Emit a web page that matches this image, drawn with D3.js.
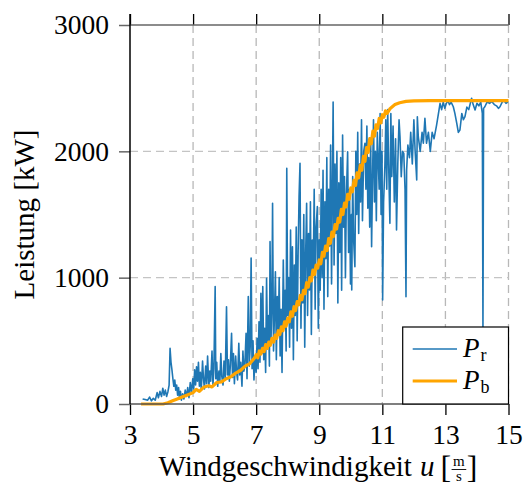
<!DOCTYPE html>
<html>
<head>
<meta charset="utf-8">
<script src="https://cdn.jsdelivr.net/npm/d3@7"></script>
<style>
  html, body { margin: 0; padding: 0; background: #fff; }
  svg { display: block; }
  text { font-family: "Liberation Serif", "DejaVu Serif", serif; fill: #000; }
</style>
</head>
<body>
<svg id="chart" width="523" height="488"></svg>
<script>
// ---------- data ----------
const xTicks = [3, 5, 7, 9, 11, 13, 15];
const yTicks = [0, 1000, 2000, 3000];

// measured power P_r (wind speed u in m/s, power in kW)
const uR = [
  3.40,3.48,3.56,3.62,3.68,3.74,3.80,3.86,3.90,3.95,4.00,4.04,4.08,4.12,4.16,4.20,4.24,4.27,4.30,4.33,
  4.36,4.39,4.42,4.45,4.48,4.51,4.54,4.57,4.60,4.63,4.67,4.71,4.75,4.79,4.83,4.87,4.91,4.95,4.99,5.02,
  5.05,5.08,5.11,5.14,5.17,5.20,5.23,5.26,5.30,5.33,5.36,5.40,5.43,5.46,5.50,5.53,5.56,5.60,5.63,5.66,
  5.70,5.72,5.75,5.78,5.82,5.85,5.88,5.91,5.95,5.98,6.02,6.06,6.09,6.12,6.15,6.18,6.22,6.25,6.28,6.31,
  6.35,6.38,6.41,6.45,6.48,6.51,6.55,6.58,6.61,6.64,6.68,6.71,6.75,6.78,6.81,6.84,6.87,6.90,6.93,6.97,
  7.00,7.03,7.06,7.09,7.12,7.15,7.18,7.21,7.24,7.27,7.30,7.33,7.36,7.39,7.42,7.44,7.47,7.50,7.52,7.55,
  7.58,7.61,7.64,7.67,7.70,7.73,7.76,7.79,7.82,7.86,7.89,7.92,7.95,7.97,8.00,8.03,8.06,8.09,8.12,8.15,
  8.18,8.21,8.24,8.27,8.30,8.33,8.36,8.39,8.42,8.45,8.48,8.51,8.54,8.57,8.60,8.63,8.66,8.69,8.72,8.75,
  8.78,8.81,8.84,8.87,8.90,8.94,8.97,9.00,9.03,9.06,9.09,9.12,9.15,9.18,9.21,9.24,9.27,9.30,9.33,9.36,
  9.39,9.42,9.44,9.47,9.50,9.53,9.56,9.59,9.62,9.65,9.68,9.71,9.74,9.77,9.80,9.83,9.86,9.90,9.93,9.96,
  9.99,10.02,10.03,10.06,10.09,10.13,10.16,10.19,10.22,10.25,10.28,10.31,10.34,10.37,10.41,10.45,10.48,10.51,10.54,10.57,
  10.60,10.63,10.66,10.69,10.72,10.75,10.78,10.81,10.84,10.87,10.90,10.93,10.96,10.99,11.01,11.04,11.08,11.11,11.14,11.17,
  11.20,11.24,11.27,11.30,11.34,11.38,11.42,11.45,11.49,11.53,11.56,11.60,11.64,11.68,11.72,11.75,11.77,11.81,11.86,11.90,
  11.95,12.00,12.04,12.09,12.11,12.14,12.20,12.26,12.30,12.35,12.40,12.46,12.52,12.58,12.64,12.72,12.78,12.83,12.88,12.93,
  12.98,13.03,13.08,13.13,13.18,13.25,13.30,13.36,13.41,13.46,13.52,13.57,13.62,13.68,13.74,13.80,13.83,13.88,13.94,14.00,
  14.06,14.12,14.17,14.19,14.21,14.25,14.32,14.40,14.47,14.55,14.62,14.68,14.73,14.80,14.86,14.92,15.00
];
const pR = [
  40,35,30,55,25,45,30,90,50,100,60,125,70,110,60,95,150,440,330,270,
  200,140,190,110,150,70,130,40,100,30,80,40,110,60,130,50,170,90,200,120,
  270,150,295,180,330,140,250,110,340,200,120,300,160,380,130,260,180,420,150,280,
  930,200,330,140,260,180,400,220,150,340,200,770,230,350,180,300,560,210,400,160,
  380,250,190,480,230,330,140,420,260,300,560,200,850,300,450,1155,280,500,190,380,
  250,520,280,650,330,876,400,929,350,600,250,995,450,700,300,1285,500,800,1589,420,
  700,1047,350,850,550,1000,380,750,250,1140,600,900,420,1866,700,1000,450,1377,600,1245,
  350,1100,700,1400,500,1200,1641,1905,600,1300,800,1500,450,1200,1589,700,1350,902,1600,550,
  1298,1050,1700,750,1400,1562,600,1300,900,1700,1000,1850,750,1600,1150,1950,850,1700,1250,2050,
  950,1800,2390,1100,1900,1350,2000,800,1750,1200,1950,900,2129,1400,1800,1000,1650,1997,1200,1700,
  950,1500,902,1800,1300,1087,2000,1500,2150,1350,1900,1600,2250,1450,2000,2064,1700,2200,1550,1950,
  1400,2100,1245,1800,2250,1600,2000,1450,2150,1931,1700,2300,1500,2000,823,1600,1878,2250,1700,2330,
  1900,1430,2300,1800,2200,1600,2100,1377,1900,2250,2116,1800,2000,1984,1700,849,1852,2050,1950,2150,
  1900,2250,2000,1773,2274,2116,2000,2150,2064,2261,2064,2150,2000,2150,2100,2208,2300,2380,2330,2390,
  2340,2380,2400,2370,2390,2353,2300,2221,2150,2169,2300,2250,2274,2350,2330,2390,2420,2370,2327,2380,
  2360,2390,2300,585,2340,2353,2390,2380,2395,2370,2360,2340,2353,2390,2400,2380,2393
];

// model power P_b
const uB = [
  3.35,3.60,3.85,4.05,4.20,4.35,4.50,4.65,4.80,5.00,5.10,5.20,5.35,5.50,5.60,5.75,5.90,6.05,6.20,6.35,
  6.50,6.65,6.80,6.95,
  7.00,7.05,7.10,7.15,7.20,7.25,7.30,7.35,7.40,7.45,7.50,7.55,7.60,7.65,7.70,7.75,7.80,7.85,7.90,7.95,
  8.00,8.05,8.10,8.15,8.20,8.25,8.30,8.35,8.40,8.45,8.50,8.55,8.60,8.65,8.70,8.75,8.80,8.85,8.90,8.95,
  9.00,9.05,9.10,9.15,9.20,9.25,9.30,9.35,9.40,9.45,9.50,9.55,9.60,9.65,9.70,9.75,9.80,9.85,9.90,9.95,
  10.00,10.05,10.10,10.15,10.20,10.25,10.30,10.35,10.40,10.45,10.50,10.55,10.60,10.65,10.70,10.75,10.80,10.85,10.90,10.95,
  11.00,11.05,11.10,11.15,11.25,11.40,11.55,11.75,12.00,12.50,13.00,14.00,15.00
];
const pB = [
  0,0,0,0,10,25,40,55,70,90,115,100,135,145,135,170,175,200,215,245,
  265,300,320,365,
  390,365,420,395,440,415,470,440,490,465,520,490,545,520,580,550,610,580,650,615,
  680,650,730,695,770,740,810,785,860,825,900,875,960,925,1000,975,1060,1025,1100,1075,
  1140,1110,1200,1170,1250,1215,1310,1270,1360,1325,1420,1385,1470,1440,1540,1500,1590,1560,1660,1620,
  1710,1680,1770,1730,1830,1790,1890,1850,1960,1920,2030,1990,2100,2060,2160,2120,2210,2180,2260,2225,
  2290,2270,2320,2300,2340,2370,2385,2395,2400,2402,2402,2402,2402
];

// ---------- layout ----------
const svg = d3.select("#chart");
const X0 = 130, X1 = 508.5, Y0 = 404, Y1 = 25;
const x = d3.scaleLinear().domain([3, 15]).range([X0, X1]);
const y = d3.scaleLinear().domain([0, 3000]).range([Y0, Y1]);

// grid
const grid = svg.append("g");
grid.selectAll("line.vx").data(xTicks.filter(d => d > 3)).enter().append("line")
  .attr("x1", d => x(d)).attr("x2", d => x(d)).attr("y1", Y1).attr("y2", Y0)
  .attr("stroke", "#b8b8b8").attr("stroke-width", 1.3).attr("stroke-dasharray", "8,5");
grid.selectAll("line.hy").data(yTicks.filter(d => d > 0 && d < 3000)).enter().append("line")
  .attr("x1", X0).attr("x2", X1).attr("y1", d => y(d)).attr("y2", d => y(d))
  .attr("stroke", "#c4c4c4").attr("stroke-width", 1.4).attr("stroke-dasharray", "8,5");

// data lines
svg.append("defs").append("clipPath").attr("id", "clip")
  .append("rect").attr("x", X0).attr("y", Y1 - 5).attr("width", X1 - X0 + 3).attr("height", Y0 - Y1 + 8);
const gData = svg.append("g").attr("clip-path", "url(#clip)");
const line = d3.line().x(d => x(d[0])).y(d => y(d[1]));
gData.append("path").datum(uR.map((u, i) => [u, pR[i]]))
  .attr("d", line).attr("fill", "none").attr("stroke", "#1f77b4")
  .attr("stroke-width", 1.6).attr("stroke-linejoin", "round");
gData.append("path").datum(uB.map((u, i) => [u, pB[i]]))
  .attr("d", line).attr("fill", "none").attr("stroke", "#ffa500")
  .attr("stroke-width", 3.2).attr("stroke-linejoin", "round");

// axes
const tickFont = 27.5;
const axB = svg.append("g").attr("transform", `translate(0,${Y0})`)
  .call(d3.axisBottom(x).tickValues(xTicks).tickSize(11).tickPadding(9).tickFormat(d3.format("d")));
const axT = svg.append("g").attr("transform", `translate(0,${Y1})`)
  .call(d3.axisTop(x).tickValues(xTicks).tickSize(11).tickFormat(""));
const axL = svg.append("g").attr("transform", `translate(${X0},0)`)
  .call(d3.axisLeft(y).tickValues(yTicks).tickSize(11).tickPadding(10).tickFormat(d3.format("d")));
[axB, axT, axL].forEach(a => { a.select(".domain").remove(); a.attr("font-family", null).attr("font-size", null); });
axB.selectAll(".tick line").attr("stroke", "#000").attr("stroke-width", 1.3);
axT.selectAll(".tick line").attr("stroke", "#000").attr("stroke-width", 1.3);
axL.selectAll(".tick line").attr("stroke", "#666").attr("stroke-width", 1.5);
axB.selectAll("text").attr("font-size", tickFont).attr("fill", "#000");
axL.selectAll("text").attr("font-size", tickFont).attr("fill", "#000");

// frame lines
svg.append("line").attr("x1", X0).attr("x2", X1).attr("y1", Y1).attr("y2", Y1)
  .attr("stroke", "#666").attr("stroke-width", 1.5);
svg.append("line").attr("x1", X0).attr("x2", X1).attr("y1", Y0).attr("y2", Y0)
  .attr("stroke", "#555").attr("stroke-width", 1.5);
svg.append("line").attr("x1", X0).attr("x2", X0).attr("y1", Y1 - 11).attr("y2", Y0)
  .attr("stroke", "#000").attr("stroke-width", 1.5);

// legend
const lg = svg.append("g");
lg.append("rect").attr("x", 402.7).attr("y", 327).attr("width", X1 - 402.7).attr("height", Y0 - 327)
  .attr("fill", "#fff").attr("stroke", "#000").attr("stroke-width", 1.2);
const legendItems = [
  { sym: "P", sub: "r", color: "#1f77b4", w: 1.6 },
  { sym: "P", sub: "b", color: "#ffa500", w: 3.2 }
];
legendItems.forEach((it, i) => {
  const cy = 349 + i * 32;
  lg.append("line").attr("x1", 412.7).attr("x2", 457).attr("y1", cy).attr("y2", cy)
    .attr("stroke", it.color).attr("stroke-width", it.w);
  const t = lg.append("text").attr("x", 463).attr("y", cy + 8).attr("font-size", 27);
  t.append("tspan").attr("font-style", "italic").text(it.sym);
  t.append("tspan").attr("font-size", 18).attr("dy", 4).attr("dx", 1).text(it.sub);
});

// y label
svg.append("text").attr("transform", `translate(34,${(Y0 + Y1) / 2}) rotate(-90)`)
  .attr("text-anchor", "middle").attr("font-size", 29).text("Leistung [kW]");

// x label with fraction
const xl = svg.append("g");
const baseY = 476;
const t1 = xl.append("text").attr("y", baseY).attr("font-size", 29).text("Windgeschwindigkeit");
const t2 = xl.append("text").attr("y", baseY).attr("font-size", 29).attr("font-style", "italic").text("u");
const t3 = xl.append("text").attr("y", baseY + 2).attr("font-size", 32).text("[");
const fm = xl.append("text").attr("y", 466).attr("font-size", 15).attr("text-anchor", "middle").text("m");
const fs = xl.append("text").attr("y", 481).attr("font-size", 15).attr("text-anchor", "middle").text("s");
const fbar = xl.append("line").attr("stroke", "#000").attr("stroke-width", 0.9).attr("y1", 469.5).attr("y2", 469.5);
const t4 = xl.append("text").attr("y", baseY + 2).attr("font-size", 32).text("]");
const w1 = t1.node().getComputedTextLength();
const w2 = t2.node().getComputedTextLength();
const w3 = t3.node().getComputedTextLength();
const wf = Math.max(fm.node().getComputedTextLength(), fs.node().getComputedTextLength()) + 4;
const w4 = t4.node().getComputedTextLength();
const sp1 = 8, sp2 = 6;
const total = w1 + sp1 + w2 + sp2 + w3 + wf + w4;
let cx = 318 - total / 2;
t1.attr("x", cx); cx += w1 + sp1;
t2.attr("x", cx); cx += w2 + sp2;
t3.attr("x", cx); cx += w3;
fm.attr("x", cx + wf / 2); fs.attr("x", cx + wf / 2);
fbar.attr("x1", cx + 0.5).attr("x2", cx + wf - 0.5); cx += wf;
t4.attr("x", cx);
</script>
</body>
</html>
